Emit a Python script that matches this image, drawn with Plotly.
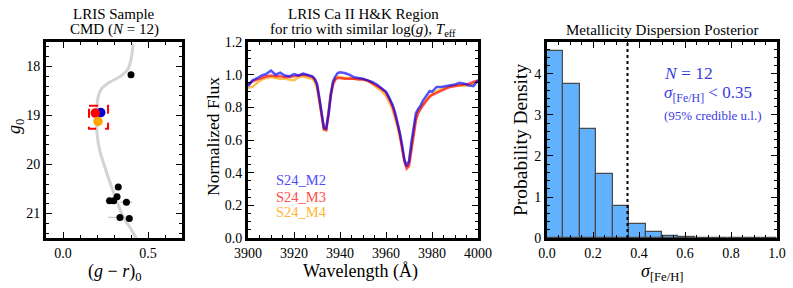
import numpy as np
import plotly.graph_objects as go

W, H = 793, 288
FONT = "Liberation Serif, DejaVu Serif, serif"

# ---------------- Panel 1: CMD ----------------
iso_gr = [0.412, 0.402, 0.382, 0.343, 0.275, 0.225, 0.206, 0.198, 0.200, 0.216, 0.245, 0.275, 0.314, 0.353, 0.402, 0.431]
iso_g = [17.54, 17.82, 18.05, 18.19, 18.32, 18.46, 18.63, 19.00, 19.37, 19.71, 20.04, 20.35, 20.72, 21.06, 21.33, 21.50]

star_gr = [0.400, 0.325, 0.274, 0.298, 0.318, 0.373, 0.335, 0.390]
star_g = [18.17, 20.46, 20.74, 20.74, 20.66, 20.77, 21.08, 21.10]
star_gr_err = [0.01, 0.01, 0.025, 0.01, 0.01, 0.035, 0.07, 0.01]

trio_names = ["S24_M2", "S24_M3", "S24_M4"]
trio_gr = [0.222, 0.190, 0.206]
trio_g = [18.94, 18.95, 19.12]
trio_colors = ["#0000d0", "#ff0000", "#ffa500"]
box_gr = [0.153, 0.265]
box_g = [18.80, 19.27]

# ---------------- Panel 2: spectra ----------------
wave = [3900, 3902, 3904, 3906, 3908, 3910, 3912, 3914, 3916, 3918, 3920, 3922, 3924, 3926,
        3928, 3929, 3930, 3931, 3932, 3933, 3934, 3935, 3936, 3937, 3938, 3939, 3940,
        3942, 3944, 3946, 3948, 3950, 3952, 3954, 3956, 3958,
        3960, 3961, 3962, 3963, 3964, 3965, 3966, 3967, 3968, 3969, 3970, 3971, 3972, 3973, 3974,
        3975, 3976, 3977, 3978, 3979, 3980,
        3982, 3984, 3986, 3988, 3990, 3992, 3994, 3996, 3998, 4000]
flux_m2 = [0.930, 0.965, 0.978, 0.995, 1.005, 1.025, 1.000, 1.012, 0.995, 0.990, 1.004, 0.995, 1.006, 1.000,
           0.990, 0.975, 0.945, 0.860, 0.760, 0.675, 0.670, 0.760, 0.880, 0.960, 0.990, 1.010, 1.015,
           1.010, 1.000, 0.985, 0.980, 0.975, 0.965, 0.955, 0.940, 0.920,
           0.895, 0.870, 0.840, 0.810, 0.765, 0.710, 0.645, 0.570, 0.480, 0.440, 0.470, 0.580, 0.690, 0.765, 0.790,
           0.810, 0.840, 0.860, 0.885, 0.900, 0.895,
           0.925, 0.925, 0.930, 0.935, 0.940, 0.950, 0.945, 0.935, 0.930, 0.965]
flux_m3 = [0.940, 0.960, 0.970, 0.980, 0.990, 0.995, 0.990, 0.990, 0.985, 0.985, 0.990, 0.995, 1.000, 0.995,
           0.985, 0.970, 0.935, 0.850, 0.750, 0.665, 0.660, 0.750, 0.870, 0.940, 0.970, 0.980, 0.980,
           0.975, 0.975, 0.975, 0.970, 0.970, 0.965, 0.950, 0.935, 0.915,
           0.890, 0.865, 0.835, 0.800, 0.755, 0.700, 0.635, 0.555, 0.470, 0.425, 0.440, 0.530, 0.640, 0.720, 0.765,
           0.790, 0.810, 0.830, 0.850, 0.865, 0.875,
           0.890, 0.905, 0.915, 0.925, 0.930, 0.935, 0.940, 0.945, 0.955, 0.965]
flux_m4 = [0.920, 0.925, 0.950, 0.970, 0.980, 0.985, 0.980, 0.975, 0.975, 0.970, 0.965, 0.985, 0.990, 0.980,
           0.975, 0.955, 0.920, 0.830, 0.740, 0.665, 0.670, 0.770, 0.890, 0.955, 0.975, 0.985, 0.985,
           0.980, 0.980, 0.975, 0.975, 0.970, 0.960, 0.945, 0.925, 0.900,
           0.870, 0.845, 0.815, 0.780, 0.735, 0.680, 0.620, 0.550, 0.470, 0.435, 0.470, 0.560, 0.660, 0.740, 0.780,
           0.800, 0.820, 0.840, 0.855, 0.870, 0.880,
           0.900, 0.910, 0.920, 0.930, 0.935, 0.935, 0.930, 0.935, 0.945, 0.960]
line_colors = ["rgba(0,0,255,0.68)", "rgba(255,0,0,0.68)", "rgba(255,165,0,0.68)"]
label_colors = ["#4d4dff", "#ff4d4d", "#ffb733"]
label_y = [0.355, 0.253, 0.16]

# ---------------- Panel 3: posterior histogram ----------------
bin_edges = np.linspace(0.0, 1.0, 15)
density = [4.56, 3.75, 2.67, 1.57, 0.78, 0.34, 0.15, 0.05, 0.02, 0.01, 0.005, 0.0, 0.0, 0.0]
upper_limit = 0.35

fig = go.Figure()

# Panel 1 traces
fig.add_trace(go.Scatter(x=iso_gr, y=iso_g, mode="lines", line=dict(color="#d3d3d3", width=3, shape="spline"),
                         xaxis="x", yaxis="y", showlegend=False, hoverinfo="skip"))
fig.add_trace(go.Scatter(x=star_gr, y=star_g, mode="markers",
                         marker=dict(color="black", size=7),
                         error_x=dict(type="data", array=star_gr_err, color="#cccccc", thickness=1.5, width=0),
                         xaxis="x", yaxis="y", showlegend=False))
for i in [0, 1, 2]:
    fig.add_trace(go.Scatter(x=[trio_gr[i]], y=[trio_g[i]], mode="markers",
                             marker=dict(color=trio_colors[i], size=9.5),
                             xaxis="x", yaxis="y", showlegend=False))
fig.add_shape(type="rect", xref="x", yref="y", x0=box_gr[0], x1=box_gr[1], y0=box_g[0], y1=box_g[1],
              line=dict(color="red", width=2, dash="dash"))

# Panel 2 traces
for fl, c in [(flux_m4, line_colors[2]), (flux_m3, line_colors[1]), (flux_m2, line_colors[0])]:
    fig.add_trace(go.Scatter(x=wave, y=fl, mode="lines", line=dict(color=c, width=2.5),
                             xaxis="x2", yaxis="y2", showlegend=False))
for name, col, yy in zip(trio_names, label_colors, label_y):
    fig.add_annotation(x=3911.5, y=yy, xref="x2", yref="y2", text=name, showarrow=False,
                       xanchor="left", yanchor="middle", font=dict(family=FONT, size=14.5, color=col))

# Panel 3 traces
centers = 0.5 * (bin_edges[:-1] + bin_edges[1:])
widths = np.diff(bin_edges)
fig.add_trace(go.Bar(x=centers, y=density, width=widths, marker=dict(color="#61b1ff",
                     line=dict(color="#4a4a4a", width=1.2)), xaxis="x3", yaxis="y3", showlegend=False))
fig.add_shape(type="line", xref="x3", yref="y3 domain", x0=upper_limit, x1=upper_limit, y0=0, y1=1,
              line=dict(color="black", width=2, dash="dot"))
txtcol = "#3b3be6"
fig.add_annotation(x=0.5, y=4.02, xref="x3", yref="y3", text="<i>N</i> = 12", showarrow=False,
                   xanchor="left", yanchor="middle", font=dict(family=FONT, size=17.5, color=txtcol))
fig.add_annotation(x=0.5, y=3.5, xref="x3", yref="y3", text="<i>σ</i><sub>[Fe/H]</sub> &lt; 0.35", showarrow=False,
                   xanchor="left", yanchor="middle", font=dict(family=FONT, size=17, color=txtcol))
fig.add_annotation(x=0.5, y=2.98, xref="x3", yref="y3", text="(95% credible u.l.)", showarrow=False,
                   xanchor="left", yanchor="middle", font=dict(family=FONT, size=13, color=txtcol))


def axstyle(**kw):
    d = dict(showline=True, linecolor="black", linewidth=2.8, mirror="ticks", ticks="inside", ticklen=6,
             tickwidth=1.3, tickcolor="black", showgrid=False, zeroline=False, automargin=False,
             tickfont=dict(family=FONT, size=14, color="black"),
             minor=dict(ticks="inside", ticklen=3, tickwidth=1, tickcolor="black", showgrid=False))
    for k, v in kw.items():
        if k == "minor_dtick":
            d["minor"]["dtick"] = v
        else:
            d[k] = v
    return d

ytop, ybot = 1 - 42 / H, 1 - 238 / H
fig.update_layout(
    width=W, height=H, margin=dict(l=0, r=0, t=0, b=0, autoexpand=False),
    paper_bgcolor="white", plot_bgcolor="white", bargap=0,
    font=dict(family=FONT, color="black"),
    xaxis=axstyle(domain=[46 / W, 182 / W], range=[-0.1, 0.7], dtick=0.5, tick0=0, tickformat=".1f",
                  minor_dtick=0.1, anchor="y"),
    yaxis=axstyle(domain=[ybot, ytop], range=[21.5, 17.5], dtick=1, tick0=18, minor_dtick=0.2, anchor="x"),
    xaxis2=axstyle(domain=[248 / W, 478 / W], range=[3900, 4000], dtick=20, minor_dtick=5, anchor="y2"),
    yaxis2=axstyle(domain=[ybot, ytop], range=[0, 1.2], dtick=0.2, tickformat=".1f", minor_dtick=0.05, anchor="x2"),
    xaxis3=axstyle(domain=[547 / W, 777 / W], range=[0, 1], dtick=0.2, tickformat=".1f", minor_dtick=0.05, anchor="y3"),
    yaxis3=axstyle(domain=[ybot, ytop], range=[0, 4.78], dtick=1, minor_dtick=0.2, anchor="x3"),
)


def ptext(px, py, text, size, angle=0, anchor="center"):
    fig.add_annotation(x=px / W, y=1 - py / H, xref="paper", yref="paper", text=text, showarrow=False,
                       xanchor=anchor, yanchor="middle", textangle=angle,
                       font=dict(family=FONT, size=size, color="black"))

# titles
ptext(114, 14, "LRIS Sample", 15)
ptext(114, 30, "CMD (<i>N</i> = 12)", 15)
ptext(363, 14, "LRIS Ca II H&amp;K Region", 15)
ptext(363, 30, "for trio with similar log(<i>g</i>), <i>T</i><sub>eff</sub>", 15)
ptext(662, 30, "Metallicity Dispersion Posterior", 15)
# axis titles
ptext(114, 272, "(<i>g</i> − <i>r</i>)<sub>0</sub>", 18)
ptext(360, 271, "Wavelength (Å)", 18)
ptext(662, 272, "<i>σ</i><sub>[Fe/H]</sub>", 18)
ptext(15, 127, "<i>g</i><sub>0</sub>", 18, angle=-90)
ptext(213, 137, "Normalized Flux", 17.5, angle=-90)
ptext(520, 140, "Probability Density", 19.5, angle=-90)

fig.write_html("out.html", config={"displayModeBar": False},
               post_script="document.body.style.margin='0px';document.body.style.padding='0px';")
